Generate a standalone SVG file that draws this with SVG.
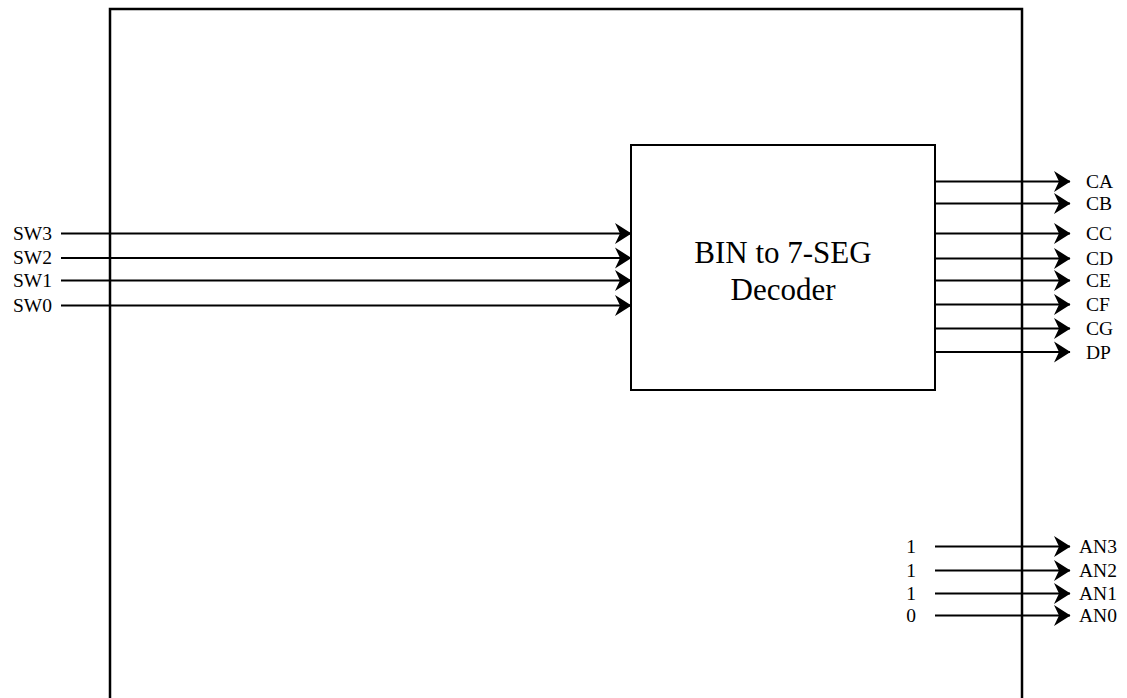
<svg xmlns="http://www.w3.org/2000/svg" width="1127" height="698" viewBox="0 0 1127 698">
<defs>
<style>
.t{font-family:"Liberation Serif","Times New Roman",serif;font-size:19.5px;fill:#000}
.big{font-family:"Liberation Serif","Times New Roman",serif;font-size:31px;fill:#000;text-anchor:middle}
.w{stroke:#000;stroke-width:2;fill:none;marker-end:url(#arr)}
.box{fill:#fff;stroke:#000;stroke-width:2}
</style>
<marker id="arr" markerUnits="userSpaceOnUse" markerWidth="18" markerHeight="22" viewBox="0 0 18 22" refX="16" refY="11" orient="auto">
<path d="M0,0.5 L16.5,11 L0,21.5 L5,11 Z" fill="#000"/>
</marker>
</defs>
<g id="outer"><rect x="110" y="9" width="912" height="720" fill="none" stroke="#000" stroke-width="2.5"/></g>
<g id="decoder">
<rect class="box" x="631" y="145" width="304" height="245"/>
<text class="big" x="783" y="263">BIN to 7-SEG</text>
<text class="big" x="783" y="300">Decoder</text>
</g>
<g id="connectors">
<line class="w" x1="61" y1="233.5" x2="631" y2="233.5"/>
<line class="w" x1="61" y1="258" x2="631" y2="258"/>
<line class="w" x1="61" y1="280.5" x2="631" y2="280.5"/>
<line class="w" x1="61" y1="305.5" x2="631" y2="305.5"/>
<line class="w" x1="935" y1="181.5" x2="1070" y2="181.5"/>
<line class="w" x1="935" y1="203.5" x2="1070" y2="203.5"/>
<line class="w" x1="935" y1="233.5" x2="1070" y2="233.5"/>
<line class="w" x1="935" y1="258.5" x2="1070" y2="258.5"/>
<line class="w" x1="935" y1="280.5" x2="1070" y2="280.5"/>
<line class="w" x1="935" y1="304.5" x2="1070" y2="304.5"/>
<line class="w" x1="935" y1="328.5" x2="1070" y2="328.5"/>
<line class="w" x1="935" y1="352" x2="1070" y2="352"/>
<line class="w" x1="935" y1="546.5" x2="1070" y2="546.5"/>
<line class="w" x1="935" y1="570.5" x2="1070" y2="570.5"/>
<line class="w" x1="935" y1="593.5" x2="1070" y2="593.5"/>
<line class="w" x1="935" y1="615.5" x2="1070" y2="615.5"/>
</g>
<g id="inputs">
<text class="t" x="52" y="239.5" text-anchor="end">SW3</text>
<text class="t" x="52" y="264" text-anchor="end">SW2</text>
<text class="t" x="52" y="286.5" text-anchor="end">SW1</text>
<text class="t" x="52" y="311.5" text-anchor="end">SW0</text>
</g>
<g id="outputs">
<text class="t" x="1086" y="188">CA</text>
<text class="t" x="1086" y="210">CB</text>
<text class="t" x="1086" y="239.5">CC</text>
<text class="t" x="1086" y="264.5">CD</text>
<text class="t" x="1086" y="286.5">CE</text>
<text class="t" x="1086" y="310.5">CF</text>
<text class="t" x="1086" y="334.5">CG</text>
<text class="t" x="1086" y="358.5">DP</text>
</g>
<g id="anodes">
<text class="t" x="911" y="553" text-anchor="middle">1</text>
<text class="t" x="911" y="577" text-anchor="middle">1</text>
<text class="t" x="911" y="600" text-anchor="middle">1</text>
<text class="t" x="911" y="622" text-anchor="middle">0</text>
<text class="t" x="1079" y="553">AN3</text>
<text class="t" x="1079" y="577">AN2</text>
<text class="t" x="1079" y="600">AN1</text>
<text class="t" x="1079" y="622">AN0</text>
</g>
</svg>
